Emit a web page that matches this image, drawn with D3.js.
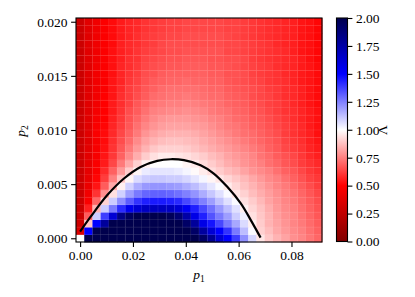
<!DOCTYPE html>
<html>
<head>
<meta charset="utf-8">
<script src="https://cdn.jsdelivr.net/npm/d3@7"></script>
<style>
body { margin: 0; background: #fff; }
text { font-family: "Liberation Serif", serif; font-size: 13.5px; fill: #000; }
</style>
</head>
<body>
<svg id="chart" width="415" height="297"></svg>
<script>
// grid coordinates (cell centres)
var p1Values = [0, 0.0031, 0.00621, 0.00931, 0.01241, 0.01552, 0.01862, 0.02172, 0.02483, 0.02793,
  0.03103, 0.03414, 0.03724, 0.04034, 0.04345, 0.04655, 0.04966, 0.05276, 0.05586, 0.05897,
  0.06207, 0.06517, 0.06828, 0.07138, 0.07448, 0.07759, 0.08069, 0.08379, 0.0869, 0.09];
var p2Values = [0, 0.00069, 0.00138, 0.00207, 0.00276, 0.00345, 0.00414, 0.00483, 0.00552, 0.00621,
  0.0069, 0.00759, 0.00828, 0.00897, 0.00966, 0.01034, 0.01103, 0.01172, 0.01241, 0.0131,
  0.01379, 0.01448, 0.01517, 0.01586, 0.01655, 0.01724, 0.01793, 0.01862, 0.01931, 0.02];

// Lambda, one row per p2 value (bottom row first), one column per p1 value
var lambdaGrid = [
  [1.0, 2, 2, 2, 2, 2, 2, 2, 2, 2, 2, 2, 2, 2, 2, 1.93, 1.8, 1.62, 1.5, 1.38, 1.22, 1.08, 0.95, 0.89, 0.85, 0.82, 0.78, 0.76, 0.73, 0.70],
  [0.36, 1.5, 2, 2, 2, 2, 2, 2, 2, 2, 2, 2, 2, 2, 1.93, 1.77, 1.62, 1.5, 1.4, 1.26, 1.13, 1.01, 0.91, 0.87, 0.83, 0.8, 0.77, 0.75, 0.72, 0.69],
  [0.3, 0.89, 1.5, 1.78, 2, 2, 2, 2, 2, 2, 2, 2, 2, 1.93, 1.78, 1.57, 1.46, 1.36, 1.26, 1.17, 1.07, 0.97, 0.9, 0.85, 0.82, 0.79, 0.76, 0.74, 0.71, 0.68],
  [0.3, 0.68, 1.1, 1.38, 1.62, 1.84, 1.95, 2, 2, 2, 2, 1.97, 1.9, 1.75, 1.57, 1.44, 1.34, 1.26, 1.19, 1.1, 1.03, 0.94, 0.89, 0.85, 0.81, 0.78, 0.76, 0.73, 0.7, 0.67],
  [0.3, 0.56, 0.85, 1.1, 1.26, 1.42, 1.55, 1.62, 1.67, 1.68, 1.68, 1.67, 1.62, 1.53, 1.44, 1.36, 1.28, 1.2, 1.13, 1.06, 0.97, 0.92, 0.88, 0.84, 0.8, 0.77, 0.75, 0.72, 0.69, 0.66],
  [0.3, 0.48, 0.7, 0.91, 1.1, 1.22, 1.32, 1.4, 1.44, 1.45, 1.45, 1.44, 1.42, 1.36, 1.3, 1.25, 1.19, 1.12, 1.06, 1.01, 0.94, 0.9, 0.86, 0.82, 0.79, 0.76, 0.74, 0.71, 0.68, 0.65],
  [0.3, 0.45, 0.6, 0.78, 0.94, 1.09, 1.19, 1.26, 1.3, 1.31, 1.31, 1.3, 1.28, 1.25, 1.21, 1.16, 1.11, 1.06, 1.01, 0.95, 0.91, 0.87, 0.84, 0.81, 0.78, 0.75, 0.73, 0.7, 0.67, 0.64],
  [0.3, 0.42, 0.54, 0.68, 0.83, 0.97, 1.09, 1.16, 1.2, 1.21, 1.21, 1.2, 1.19, 1.16, 1.13, 1.09, 1.05, 1.01, 0.96, 0.92, 0.88, 0.85, 0.82, 0.79, 0.76, 0.74, 0.71, 0.68, 0.65, 0.62],
  [0.3, 0.41, 0.51, 0.62, 0.75, 0.88, 0.98, 1.07, 1.1, 1.11, 1.11, 1.1, 1.1, 1.08, 1.05, 1.02, 0.98, 0.95, 0.92, 0.89, 0.86, 0.83, 0.8, 0.77, 0.75, 0.72, 0.69, 0.66, 0.63, 0.61],
  [0.3, 0.4, 0.49, 0.58, 0.69, 0.8, 0.9, 0.98, 1.04, 1.05, 1.05, 1.05, 1.04, 1.02, 0.99, 0.96, 0.93, 0.9, 0.87, 0.85, 0.82, 0.79, 0.77, 0.75, 0.72, 0.69, 0.67, 0.64, 0.61, 0.59],
  [0.3, 0.4, 0.48, 0.55, 0.64, 0.74, 0.83, 0.91, 0.97, 1.0, 1.0, 1.0, 1.0, 0.98, 0.96, 0.93, 0.9, 0.87, 0.84, 0.82, 0.79, 0.77, 0.75, 0.72, 0.7, 0.67, 0.65, 0.62, 0.6, 0.58],
  [0.3, 0.39, 0.47, 0.54, 0.61, 0.69, 0.77, 0.84, 0.9, 0.94, 0.96, 0.96, 0.95, 0.94, 0.92, 0.9, 0.87, 0.85, 0.82, 0.8, 0.78, 0.76, 0.73, 0.71, 0.68, 0.66, 0.64, 0.61, 0.58, 0.56],
  [0.3, 0.39, 0.47, 0.53, 0.6, 0.67, 0.74, 0.8, 0.85, 0.89, 0.91, 0.91, 0.91, 0.9, 0.88, 0.86, 0.84, 0.82, 0.8, 0.78, 0.76, 0.74, 0.72, 0.69, 0.67, 0.64, 0.62, 0.6, 0.57, 0.55],
  [0.3, 0.38, 0.47, 0.52, 0.59, 0.65, 0.71, 0.77, 0.82, 0.85, 0.87, 0.88, 0.88, 0.87, 0.86, 0.84, 0.82, 0.8, 0.78, 0.76, 0.74, 0.72, 0.7, 0.68, 0.66, 0.63, 0.61, 0.59, 0.56, 0.54],
  [0.3, 0.38, 0.48, 0.52, 0.58, 0.64, 0.69, 0.74, 0.79, 0.82, 0.84, 0.85, 0.85, 0.85, 0.84, 0.82, 0.8, 0.78, 0.76, 0.74, 0.72, 0.71, 0.69, 0.67, 0.65, 0.62, 0.6, 0.58, 0.56, 0.53],
  [0.3, 0.38, 0.48, 0.51, 0.57, 0.62, 0.67, 0.72, 0.76, 0.79, 0.81, 0.82, 0.82, 0.82, 0.81, 0.8, 0.78, 0.76, 0.74, 0.73, 0.71, 0.69, 0.68, 0.66, 0.64, 0.62, 0.6, 0.58, 0.55, 0.53],
  [0.3, 0.38, 0.47, 0.5, 0.56, 0.61, 0.66, 0.7, 0.74, 0.77, 0.79, 0.8, 0.8, 0.8, 0.79, 0.78, 0.76, 0.75, 0.73, 0.71, 0.7, 0.68, 0.67, 0.65, 0.63, 0.61, 0.59, 0.57, 0.55, 0.53],
  [0.3, 0.38, 0.46, 0.5, 0.55, 0.6, 0.65, 0.68, 0.72, 0.75, 0.76, 0.77, 0.77, 0.78, 0.77, 0.76, 0.74, 0.73, 0.72, 0.7, 0.69, 0.67, 0.66, 0.64, 0.62, 0.6, 0.59, 0.57, 0.55, 0.53],
  [0.3, 0.38, 0.45, 0.5, 0.55, 0.59, 0.63, 0.67, 0.7, 0.73, 0.74, 0.75, 0.75, 0.76, 0.75, 0.74, 0.73, 0.72, 0.7, 0.69, 0.68, 0.66, 0.65, 0.63, 0.62, 0.6, 0.58, 0.56, 0.54, 0.52],
  [0.3, 0.38, 0.45, 0.5, 0.54, 0.59, 0.62, 0.65, 0.68, 0.71, 0.72, 0.73, 0.73, 0.74, 0.73, 0.72, 0.71, 0.71, 0.69, 0.68, 0.67, 0.65, 0.64, 0.63, 0.61, 0.59, 0.58, 0.56, 0.54, 0.52],
  [0.3, 0.38, 0.45, 0.49, 0.54, 0.58, 0.62, 0.64, 0.67, 0.69, 0.71, 0.72, 0.72, 0.72, 0.72, 0.71, 0.7, 0.7, 0.68, 0.67, 0.66, 0.65, 0.64, 0.62, 0.61, 0.59, 0.58, 0.56, 0.54, 0.52],
  [0.3, 0.38, 0.45, 0.49, 0.54, 0.57, 0.61, 0.63, 0.66, 0.68, 0.69, 0.7, 0.7, 0.71, 0.7, 0.7, 0.69, 0.69, 0.67, 0.66, 0.65, 0.64, 0.63, 0.61, 0.6, 0.59, 0.57, 0.55, 0.54, 0.52],
  [0.3, 0.38, 0.45, 0.49, 0.53, 0.57, 0.6, 0.62, 0.65, 0.66, 0.68, 0.69, 0.69, 0.69, 0.69, 0.69, 0.68, 0.68, 0.66, 0.66, 0.65, 0.63, 0.62, 0.61, 0.6, 0.58, 0.57, 0.55, 0.54, 0.52],
  [0.3, 0.38, 0.45, 0.49, 0.53, 0.57, 0.59, 0.61, 0.64, 0.65, 0.66, 0.67, 0.67, 0.68, 0.68, 0.68, 0.67, 0.67, 0.66, 0.65, 0.64, 0.63, 0.62, 0.61, 0.59, 0.58, 0.57, 0.55, 0.54, 0.52],
  [0.3, 0.38, 0.44, 0.49, 0.53, 0.56, 0.59, 0.6, 0.63, 0.64, 0.65, 0.66, 0.66, 0.67, 0.67, 0.67, 0.66, 0.66, 0.65, 0.65, 0.64, 0.62, 0.61, 0.6, 0.59, 0.58, 0.57, 0.55, 0.53, 0.51],
  [0.3, 0.38, 0.44, 0.49, 0.53, 0.56, 0.58, 0.6, 0.62, 0.63, 0.64, 0.65, 0.65, 0.66, 0.66, 0.66, 0.66, 0.66, 0.64, 0.64, 0.63, 0.62, 0.61, 0.6, 0.59, 0.58, 0.56, 0.54, 0.53, 0.51],
  [0.3, 0.38, 0.44, 0.49, 0.52, 0.56, 0.58, 0.59, 0.61, 0.62, 0.64, 0.65, 0.65, 0.65, 0.65, 0.65, 0.65, 0.65, 0.64, 0.64, 0.63, 0.62, 0.61, 0.6, 0.58, 0.57, 0.56, 0.54, 0.53, 0.51],
  [0.3, 0.38, 0.44, 0.49, 0.52, 0.55, 0.57, 0.59, 0.61, 0.62, 0.63, 0.64, 0.64, 0.65, 0.65, 0.65, 0.65, 0.65, 0.64, 0.63, 0.62, 0.61, 0.6, 0.59, 0.58, 0.57, 0.56, 0.54, 0.53, 0.51],
  [0.3, 0.38, 0.44, 0.49, 0.52, 0.55, 0.57, 0.58, 0.6, 0.61, 0.62, 0.63, 0.63, 0.64, 0.64, 0.64, 0.64, 0.64, 0.63, 0.63, 0.62, 0.61, 0.6, 0.59, 0.58, 0.57, 0.56, 0.54, 0.53, 0.51],
  [0.3, 0.38, 0.44, 0.49, 0.52, 0.55, 0.57, 0.58, 0.6, 0.61, 0.62, 0.63, 0.63, 0.64, 0.64, 0.64, 0.64, 0.64, 0.63, 0.63, 0.62, 0.61, 0.6, 0.59, 0.58, 0.57, 0.56, 0.54, 0.53, 0.51]
];

// black boundary curve
var boundaryP1 = [0.00025, 0.004, 0.0103, 0.0166, 0.0229, 0.0292, 0.0343, 0.0393, 0.0456, 0.0506, 0.0557, 0.0608, 0.0646, 0.0681];
var boundaryP2 = [0.0007, 0.00199, 0.00399, 0.00552, 0.00659, 0.00715, 0.0073, 0.00721, 0.00675, 0.00598, 0.00475, 0.00322, 0.00168, 0.00015];

var xTicks = [0, 0.02, 0.04, 0.06, 0.08];
var yTicks = [0, 0.005, 0.01, 0.015, 0.02];
var cbarTicks = [0, 0.25, 0.5, 0.75, 1, 1.25, 1.5, 1.75, 2];

var svg = d3.select("#chart");
var plotLeft = 76, plotRight = 322, plotTop = 18, plotBottom = 242;

var xScale = d3.scaleLinear().domain([-0.00155, 0.09155]).range([plotLeft, plotRight]);
var yScale = d3.scaleLinear().domain([-0.000345, 0.020345]).range([plotBottom, plotTop]);
// seismic_r
var colorScale = d3.scaleLinear()
  .domain([0, 0.5, 1, 1.5, 2])
  .range(["#800000", "#ff0000", "#ffffff", "#0000ff", "#00004d"])
  .clamp(true);

var halfW = (xScale(p1Values[1]) - xScale(p1Values[0])) / 2;
var halfH = (yScale(p2Values[0]) - yScale(p2Values[1])) / 2;

var cells = [];
lambdaGrid.forEach(function(row, j) {
  row.forEach(function(v, i) {
    cells.push({ p1: p1Values[i], p2: p2Values[j], v: v });
  });
});

svg.append("g").selectAll("rect").data(cells).enter().append("rect")
  .attr("x", function(d) { return xScale(d.p1) - halfW; })
  .attr("y", function(d) { return yScale(d.p2) - halfH; })
  .attr("width", halfW * 2 + 0.4)
  .attr("height", halfH * 2 + 0.4)
  .attr("fill", function(d) { return colorScale(d.v); });

// faint cell seams like the mesh edges in the original
svg.append("g").selectAll("rect").data(cells).enter().append("rect")
  .attr("x", function(d) { return xScale(d.p1) - halfW; })
  .attr("y", function(d) { return yScale(d.p2) - halfH; })
  .attr("width", halfW * 2)
  .attr("height", halfH * 2)
  .attr("fill", "none")
  .attr("stroke", "#fff")
  .attr("stroke-opacity", 0.08)
  .attr("stroke-width", 0.6);

var curve = boundaryP1.map(function(p, k) { return [p, boundaryP2[k]]; });
var line = d3.line()
  .x(function(d) { return xScale(d[0]); })
  .y(function(d) { return yScale(d[1]); })
  .curve(d3.curveCatmullRom.alpha(0.5));
svg.append("path").datum(curve)
  .attr("d", line)
  .attr("fill", "none")
  .attr("stroke", "#000")
  .attr("stroke-width", 2.2)
  .attr("stroke-linecap", "square");

// frame
svg.append("rect")
  .attr("x", plotLeft).attr("y", plotTop)
  .attr("width", plotRight - plotLeft).attr("height", plotBottom - plotTop)
  .attr("fill", "none").attr("stroke", "#000").attr("stroke-width", 1.1);

var xAxis = d3.axisBottom(xScale).tickValues(xTicks).tickFormat(d3.format(".2f"))
  .tickSize(4.9).tickPadding(3.5).tickSizeOuter(0);
var gx = svg.append("g").attr("transform", "translate(0," + plotBottom + ")").call(xAxis);
var yAxis = d3.axisLeft(yScale).tickValues(yTicks).tickFormat(d3.format(".3f"))
  .tickSize(4.9).tickPadding(3.5).tickSizeOuter(0);
var gy = svg.append("g").attr("transform", "translate(" + plotLeft + ",0)").call(yAxis);

// colorbar
var cbLeft = 336.5, cbWidth = 11;
var cbScale = d3.scaleLinear().domain([0, 2]).range([241.5, 18]);
var grad = svg.append("defs").append("linearGradient")
  .attr("id", "cbgrad").attr("x1", 0).attr("y1", 1).attr("x2", 0).attr("y2", 0);
d3.range(0, 2.0001, 0.05).forEach(function(v) {
  grad.append("stop").attr("offset", v / 2).attr("stop-color", colorScale(v));
});
svg.append("rect")
  .attr("x", cbLeft).attr("y", cbScale(2))
  .attr("width", cbWidth).attr("height", cbScale(0) - cbScale(2))
  .attr("fill", "url(#cbgrad)")
  .attr("stroke", "#000").attr("stroke-width", 1.1);
var cAxis = d3.axisRight(cbScale).tickValues(cbarTicks).tickFormat(d3.format(".2f"))
  .tickSize(4.9).tickPadding(3.5).tickSizeOuter(0);
var gc = svg.append("g").attr("transform", "translate(" + (cbLeft + cbWidth) + ",0)").call(cAxis);

[gx, gy, gc].forEach(function(g) {
  g.attr("font-family", null).attr("font-size", null);
  g.select(".domain").remove();
  g.selectAll(".tick line").attr("stroke", "#000").attr("stroke-width", 1.1);
  g.selectAll(".tick text").style("font-family", "'Liberation Serif', serif").style("font-size", "13.5px");
});

// axis labels
var xl = svg.append("text").attr("x", 199).attr("y", 279).attr("text-anchor", "middle");
xl.append("tspan").style("font-style", "italic").text("p");
xl.append("tspan").attr("dy", 3).style("font-size", "9.5px").text("1");

var yl = svg.append("text").attr("transform", "translate(24.5,131) rotate(-90)").attr("text-anchor", "middle");
yl.append("tspan").style("font-style", "italic").text("p");
yl.append("tspan").attr("dy", 3).style("font-size", "9.5px").text("2");

svg.append("text").attr("transform", "translate(387,130) rotate(-90)")
  .attr("text-anchor", "middle").text("Λ");
</script>
</body>
</html>
